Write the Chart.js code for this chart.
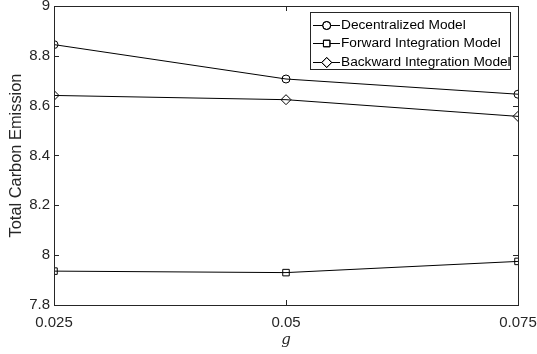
<!DOCTYPE html>
<html>
<head>
<meta charset="utf-8">
<script src="https://cdn.jsdelivr.net/npm/chart.js@4/dist/chart.umd.min.js"></script>
<style>
  html, body { margin: 0; padding: 0; background: #fff; }
  #wrap { width: 537px; height: 354px; }
</style>
</head>
<body>
<div id="wrap"><canvas id="c" width="537" height="354"></canvas></div>
<script>
// ---- data ----
const gValues = [0.025, 0.05, 0.075];
const decentralized = [8.845, 8.707, 8.646];
const forwardInt = [7.936, 7.930, 7.975];
const backwardInt = [8.641, 8.624, 8.557];
const seriesNames = ['Decentralized Model', 'Forward Integration Model', 'Backward Integration Model'];
const xTicks = [0.025, 0.05, 0.075];
const xTickLabels = ['0.025', '0.05', '0.075'];
const yTicks = [7.8, 8, 8.2, 8.4, 8.6, 8.8, 9];
const yTickLabels = ['7.8', '8', '8.2', '8.4', '8.6', '8.8', '9'];
const xTitle = 'g';
const yTitle = 'Total Carbon Emission';

const INK = '#262626';
const FONT = 'Liberation Sans, Arial, Helvetica, sans-serif';

function pts(vals) { return gValues.map((g, i) => ({ x: g, y: vals[i] })); }

const styles = ['circle', 'rect', 'rectRot'];
const radii = [4, 4.6, 5];
const seriesVals = [decentralized, forwardInt, backwardInt];

const datasets = seriesVals.map((v, i) => ({
  label: seriesNames[i],
  data: pts(v),
  borderColor: '#000',
  borderWidth: 1,
  pointStyle: styles[i],
  pointRadius: radii[i],
  pointBorderColor: '#000',
  pointBackgroundColor: 'rgba(0,0,0,0)',
  pointBorderWidth: 1,
  tension: 0,
  fill: false
}));

// box + inward ticks on all four sides
const boxPlugin = {
  id: 'box',
  afterDatasetsDraw(chart) {
    const { ctx, chartArea: a, scales } = chart;
    ctx.save();
    ctx.strokeStyle = INK;
    ctx.lineWidth = 1;
    ctx.strokeRect(Math.round(a.left) + 0.5, Math.round(a.top) + 0.5,
                   Math.round(a.right - a.left), Math.round(a.bottom - a.top));
    const L = 5;
    ctx.beginPath();
    xTicks.forEach(v => {
      const x = Math.round(scales.x.getPixelForValue(v)) + 0.5;
      ctx.moveTo(x, a.bottom); ctx.lineTo(x, a.bottom - L);
      ctx.moveTo(x, a.top); ctx.lineTo(x, a.top + L);
    });
    yTicks.forEach(v => {
      const y = Math.round(scales.y.getPixelForValue(v)) + 0.5;
      ctx.moveTo(a.left, y); ctx.lineTo(a.left + L, y);
      ctx.moveTo(a.right, y); ctx.lineTo(a.right - L, y);
    });
    ctx.stroke();
    ctx.restore();
  }
};

// legend inside the plot, top right
const legendPlugin = {
  id: 'boxLegend',
  afterDraw(chart) {
    const { ctx } = chart;
    const bx = 310.5, by = 12.5, bw = 200, bh = 57;
    ctx.save();
    ctx.fillStyle = '#fff';
    ctx.fillRect(bx, by, bw, bh);
    ctx.strokeStyle = INK;
    ctx.lineWidth = 1;
    ctx.strokeRect(bx, by, bw, bh);
    ctx.font = '13.7px ' + FONT;
    ctx.textBaseline = 'middle';
    ctx.fillStyle = '#000';
    const rows = [24.5, 43, 62];
    chart.data.datasets.forEach((ds, i) => {
      const y = rows[i];
      ctx.strokeStyle = '#000';
      ctx.lineWidth = 1;
      ctx.beginPath();
      ctx.moveTo(313, Math.round(y) + 0.5);
      ctx.lineTo(340, Math.round(y) + 0.5);
      ctx.stroke();
      ctx.fillStyle = '#fff';
      Chart.helpers.drawPoint(ctx, { pointStyle: ds.pointStyle, radius: ds.pointRadius, borderWidth: 1 }, 326.7, Math.round(y) + 0.5);
      ctx.stroke();
      ctx.fillStyle = '#000';
      ctx.fillText(ds.label, 341, y + 0.5);
    });
    ctx.restore();
  }
};

new Chart(document.getElementById('c'), {
  type: 'line',
  data: { datasets },
  options: {
    responsive: false,
    animation: false,
    layout: { padding: { top: 5, right: 19, left: 0, bottom: 0 } },
    plugins: { legend: { display: false }, tooltip: { enabled: false } },
    scales: {
      x: {
        type: 'linear',
        min: 0.025, max: 0.075,
        afterBuildTicks(s) { s.ticks = xTicks.map(v => ({ value: v })); },
        afterFit(s) { s.height = 49; s.paddingLeft = 0; s.paddingRight = 0; },
        grid: { display: false, drawTicks: false },
        border: { display: false },
        ticks: {
          color: INK, font: { family: FONT, size: 15 }, padding: 9, maxRotation: 0,
          callback: (v) => { const i = xTicks.findIndex(t => Math.abs(t - v) < 1e-9); return i >= 0 ? xTickLabels[i] : ''; }
        },
        title: { display: true, text: xTitle, color: INK,
                 font: { family: 'DejaVu Serif, Liberation Serif, serif', size: 15, style: 'italic' },
                 padding: { top: 0, bottom: 5 } }
      },
      y: {
        min: 7.8, max: 9,
        afterBuildTicks(s) { s.ticks = yTicks.map(v => ({ value: v })); },
        afterFit(s) { s.width = 54; s.paddingTop = 0; s.paddingBottom = 0; },
        grid: { display: false, drawTicks: false },
        border: { display: false },
        ticks: {
          color: INK, font: { family: FONT, size: 15 }, padding: 4,
          callback: (v) => { const i = yTicks.findIndex(t => Math.abs(t - v) < 1e-9); return i >= 0 ? yTickLabels[i] : ''; }
        },
        title: { display: true, text: yTitle, color: INK,
                 font: { family: FONT, size: 16.4 }, padding: { top: 7, bottom: 0 } }
      }
    }
  },
  plugins: [boxPlugin, legendPlugin]
});
</script>
</body>
</html>
